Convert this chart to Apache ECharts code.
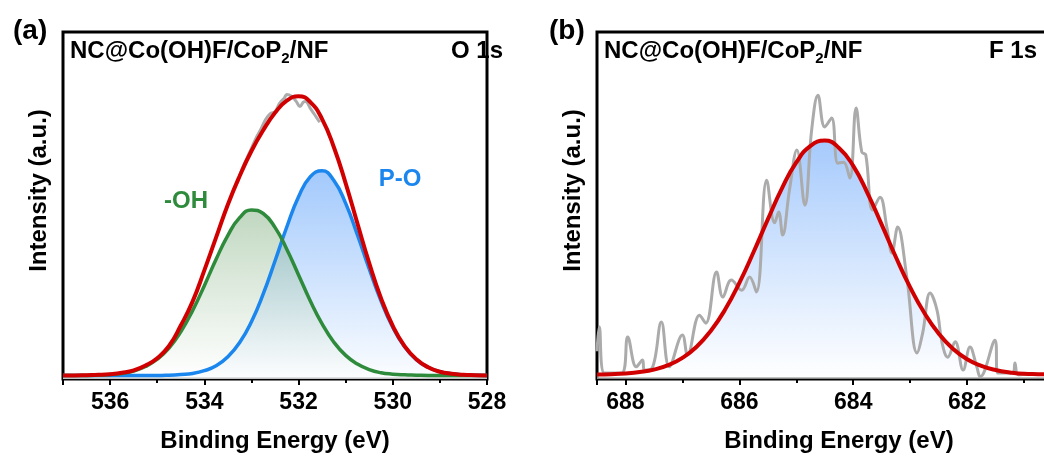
<!DOCTYPE html>
<html>
<head>
<meta charset="utf-8">
<script src="https://cdn.jsdelivr.net/npm/echarts@6/dist/echarts.min.js"></script>
<style>
  html, body { margin: 0; padding: 0; background: #fff; }
  #main { width: 1044px; height: 457px; }
</style>
</head>
<body>
<div id="main"></div>
<script>
// (a) O 1s : binding energy grid and fitted peaks
var energyA = [537, 536.75, 536.5, 536.25, 536, 535.75, 535.5, 535.25, 535, 534.75, 534.5, 534.25,
    534, 533.75, 533.5, 533.25, 533, 532.75, 532.5, 532.25, 532, 531.75, 531.5, 531.25,
    531, 530.75, 530.5, 530.25, 530, 529.75, 529.5, 529.25, 529, 528.75, 528.5, 528.25, 528];
var envelopeA = [1.0, 1.0, 1.1, 1.2, 1.4, 1.8, 2.5, 3.9, 6.0, 9.5, 15.4, 22.3,
    31.3, 40.8, 50.3, 58.5, 65.7, 71.7, 76.7, 80.2, 81.5, 79.8, 74.9, 66.8,
    56.4, 44.8, 33.4, 23.3, 15.3, 9.5, 5.7, 3.4, 2.1, 1.5, 1.2, 1.1, 1.0];
var ohA = [1.0, 1.0, 1.0, 1.1, 1.3, 1.6, 2.3, 3.6, 5.7, 8.9, 13.6, 19.7,
    26.9, 34.5, 41.4, 46.5, 48.7, 47.7, 43.7, 37.4, 30.0, 22.5, 15.9, 10.6,
    6.8, 4.3, 2.7, 1.8, 1.4, 1.2, 1.1, 1.0, 1.0, 1.0, 1.0, 1.0, 1.0];
var poA = [1.0, 1.0, 1.0, 1.0, 1.0, 1.0, 1.0, 1.0, 1.0, 1.1, 1.3, 1.6,
    2.4, 3.8, 6.4, 10.5, 16.5, 24.5, 34.0, 43.8, 52.5, 58.3, 60.0, 57.2,
    50.6, 41.5, 31.7, 22.5, 14.9, 9.3, 5.6, 3.4, 2.1, 1.5, 1.2, 1.1, 1.0];
// raw counts, only the part that shows above the envelope
var rawEnergyA = [533.3, 533.2, 533.1, 533.0, 532.9, 532.8, 532.7, 532.6, 532.5, 532.4, 532.3, 532.25,
    532.15, 532.05, 531.97, 531.9, 531.85, 531.75, 531.65, 531.55];
var rawA = [56.5, 60.5, 63.5, 66.5, 69.5, 72.0, 74.8, 76.5, 77.0, 79.5, 81.0, 82.0,
    81.5, 80.0, 78.5, 79.8, 80.0, 78.0, 76.0, 74.0];

// (b) F 1s
var energyB = [688.5, 688.25, 688, 687.75, 687.5, 687.25, 687, 686.75, 686.5, 686.25, 686,
    685.75, 685.5, 685.25, 685, 684.75, 684.5, 684.25, 684, 683.75, 683.5, 683.25,
    683, 682.75, 682.5, 682.25, 682, 681.75, 681.5, 681.25, 681, 680.75, 680.5];
var fitB = [1.3, 1.4, 1.6, 2.0, 2.7, 4.0, 6.1, 9.3, 13.9, 20.0, 27.7,
    36.6, 46.0, 55.0, 62.4, 67.2, 68.7, 66.6, 61.4, 53.6, 44.5, 35.1,
    26.4, 19.0, 13.1, 8.7, 5.7, 3.8, 2.6, 1.9, 1.5, 1.4, 1.3];
var rawEnergyB = [688.5, 688.46, 688.37, 688.07, 687.96, 687.81, 687.7, 687.67, 687.53, 687.37,
    687.23, 687.0, 686.91, 686.7, 686.59, 686.4, 686.29, 686.14, 685.96, 685.82,
    685.7, 685.52, 685.38, 685.31, 685.24, 685.12, 684.99, 684.85, 684.73, 684.62,
    684.5, 684.38, 684.27, 684.17, 684.06, 683.95, 683.85, 683.78, 683.66, 683.53,
    683.41, 683.32, 683.22, 683.06, 682.88, 682.78, 682.65, 682.53, 682.44, 682.34,
    682.21, 682.07, 681.95, 681.83, 681.77, 681.51, 681.46, 681.19, 681.16, 681.1, 680.9];
var rawB = [8, 15.0, 1.7, 1.7, 12.1, 3.5, 5.5, 2.6, 3.2, 16.4,
    3.5, 12.7, 6.9, 18.4, 16.1, 30.8, 23.6, 28.5, 25.6, 29.4,
    25.1, 57.3, 45.0, 48.1, 41.5, 54.5, 66.0, 50.1, 71.8, 81.8,
    72.6, 75.2, 62.2, 62.5, 57.9, 78.1, 65.4, 64.6, 48.7, 52.4,
    43.8, 36.3, 43.8, 29.4, 7.5, 13.3, 24.8, 19.9, 10.4, 6.3,
    10.7, 2.6, 9.2, 3.5, 0.6, 11.2, 1.7, 1.7, 4.6, 1.2, 1.5];

var FONT = '"Liberation Sans", Arial, sans-serif';
var RED = '#d10000', GREEN = '#2e8b3c', BLUE = '#1a86ee', GREY = '#ababab';

function pairs(xs, ys) {
    return xs.map(function (x, i) { return [x, ys[i]]; });
}
function vgrad(top, bottom) {
    return new echarts.graphic.LinearGradient(0, 0, 0, 1, [
        { offset: 0, color: top }, { offset: 1, color: bottom }
    ]);
}
function xAxisCfg(gridIndex, min, max) {
    return {
        type: 'value', gridIndex: gridIndex, min: min, max: max, interval: 2, inverse: true,
        axisLine: { show: false },
        axisTick: { show: true, length: 6, lineStyle: { color: '#000', width: 2 } },
        minorTick: { show: true, splitNumber: 2, length: 4, lineStyle: { color: '#000', width: 2 } },
        splitLine: { show: false },
        axisLabel: {
            color: '#000', fontSize: 23, fontWeight: 'bold', fontFamily: FONT, margin: 12,
            formatter: function (v) { return v % 2 === 0 ? String(v) : ''; }
        },
        name: 'Binding Energy (eV)', nameLocation: 'middle', nameGap: 50,
        nameTextStyle: { color: '#000', fontSize: 24, fontWeight: 'bold', fontFamily: FONT }
    };
}
function yAxisCfg(gridIndex) {
    return {
        type: 'value', gridIndex: gridIndex, min: 0, max: 100,
        axisLine: { show: false }, axisTick: { show: false }, axisLabel: { show: false },
        splitLine: { show: false },
        name: 'Intensity (a.u.)', nameLocation: 'middle', nameGap: 12,
        nameTextStyle: { color: '#000', fontSize: 24, fontWeight: 'bold', fontFamily: FONT, padding: [0, 0, 0, 30] }
    };
}
var sub = {
    n: { fontSize: 24, fontWeight: 'bold', fontFamily: FONT, color: '#000', lineHeight: 30 },
    s: { fontSize: 15, fontWeight: 'bold', fontFamily: FONT, color: '#000', lineHeight: 13, verticalAlign: 'bottom' }
};
var plain = { fontSize: 24, fontWeight: 'bold', fontFamily: FONT, color: '#000', lineHeight: 30 };
var panelTag = { fontSize: 28, fontWeight: 'bold', fontFamily: FONT, color: '#000' };

var chart = echarts.init(document.getElementById('main'));
chart.setOption({
    backgroundColor: '#fff',
    animation: false,
    title: [
        { text: '(a)', left: 13, top: 17, padding: 0, textStyle: panelTag },
        { text: '(b)', left: 549, top: 17, padding: 0, textStyle: panelTag },
        { text: '{n|NC@Co(OH)F/CoP}{s|2}{n|/NF}', left: 70, top: 36, padding: 0, textStyle: { rich: sub } },
        { text: '{n|NC@Co(OH)F/CoP}{s|2}{n|/NF}', left: 604, top: 36, padding: 0, textStyle: { rich: sub } },
        { text: 'O 1s', right: 541, top: 36, padding: 0, textStyle: plain },
        { text: 'F 1s', right: 7, top: 36, padding: 0, textStyle: plain }
    ],
    grid: [
        { left: 63, top: 32, width: 424, height: 347, outerBoundsMode: 'none',
          show: true, borderColor: '#000', borderWidth: 3 },
        { left: 597, top: 32, width: 484, height: 347, outerBoundsMode: 'none',
          show: true, borderColor: '#000', borderWidth: 3 }
    ],
    xAxis: [xAxisCfg(0, 528, 537), xAxisCfg(1, 680, 688.5)],
    yAxis: [yAxisCfg(0), yAxisCfg(1)],
    graphic: [
        { type: 'text', x: 186, y: 201, style: { text: '-OH', fill: GREEN, font: 'bold 24px ' + FONT, align: 'center', verticalAlign: 'middle' } },
        { type: 'text', x: 400, y: 179, style: { text: 'P-O', fill: BLUE, font: 'bold 24px ' + FONT, align: 'center', verticalAlign: 'middle' } }
    ],
    series: [
        {
            name: 'P-O', type: 'line', xAxisIndex: 0, yAxisIndex: 0, data: pairs(energyA, poA),
            smooth: true, symbol: 'none',
            lineStyle: { color: BLUE, width: 3.5 },
            areaStyle: { color: vgrad('rgba(100,165,250,0.85)', 'rgba(250,252,255,0.9)') }
        },
        {
            name: '-OH', type: 'line', xAxisIndex: 0, yAxisIndex: 0, data: pairs(energyA, ohA),
            smooth: true, symbol: 'none',
            lineStyle: { color: GREEN, width: 3.5 },
            areaStyle: { color: vgrad('rgba(105,160,105,0.6)', 'rgba(255,255,255,0.55)') }
        },
        {
            name: 'raw O', type: 'line', xAxisIndex: 0, yAxisIndex: 0, data: pairs(rawEnergyA, rawA),
            smooth: 0.4, symbol: 'none', lineStyle: { color: GREY, width: 3 }
        },
        {
            name: 'fit O', type: 'line', xAxisIndex: 0, yAxisIndex: 0, data: pairs(energyA, envelopeA),
            smooth: true, symbol: 'none', lineStyle: { color: RED, width: 4 }
        },
        {
            name: 'raw F', type: 'line', xAxisIndex: 1, yAxisIndex: 1, data: pairs(rawEnergyB, rawB),
            smooth: 0.4, symbol: 'none', lineStyle: { color: GREY, width: 3 }
        },
        {
            name: 'fit F', type: 'line', xAxisIndex: 1, yAxisIndex: 1, data: pairs(energyB, fitB),
            smooth: true, symbol: 'none',
            lineStyle: { color: RED, width: 4 },
            areaStyle: { color: vgrad('rgba(95,160,250,0.8)', 'rgba(255,255,255,0.75)') }
        }
    ]
});
</script>
</body>
</html>
